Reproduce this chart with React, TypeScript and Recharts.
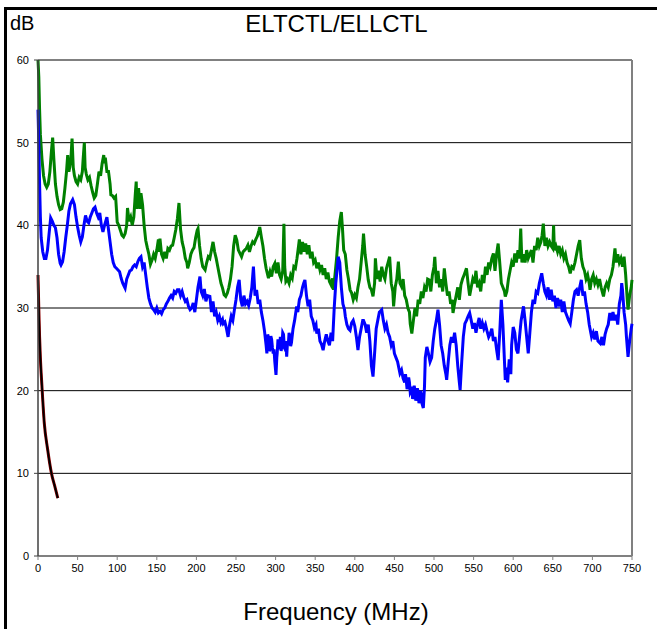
import { LineChart, Line, XAxis, YAxis, CartesianGrid, ReferenceLine } from "recharts";

// [frequency MHz, dB]
const GREEN: [number, number][] = [
  [0, 60], [1, 58], [2, 54], [3, 51], [5, 48], [7, 46], [9, 45], [11, 44.6], [13, 45], [15, 46.5],
  [17, 49], [18.5, 50.6], [20, 48], [22, 45], [24, 43.5], [26, 42.5], [28, 41.9], [30, 42], [32, 42.8], [34, 44.5],
  [36, 46.5], [37.5, 48.5], [39, 46.5], [40, 47], [41.5, 48], [43, 50.5], [44.5, 47], [46, 46], [48, 45.3], [50, 45],
  [52, 45.8], [54, 45.5], [56, 46.5], [57, 48], [58.5, 50], [59.5, 47], [61, 46.2], [63, 45.5], [65, 45.8], [67, 44.8],
  [69, 44], [71, 43.3], [73, 43.6], [75, 45], [77, 46.5], [79, 46], [81, 47.5], [83, 48.5], [84, 47.5], [85, 48.2],
  [87, 46.5], [89, 46.5], [91, 45], [92, 43.7], [94, 43.6], [96, 43.3], [98, 43.5], [100, 40.4], [102, 40], [104, 39.4],
  [106, 38.8], [108, 38.6], [110, 39], [112, 40], [113, 42.1], [115, 40.5], [117, 41], [119, 40], [121, 41], [123, 44],
  [124, 45.3], [125, 42], [127, 44.5], [129, 42], [130, 43.9], [132, 42.5], [134, 40], [136, 38.2], [138, 37.3], [140, 36.5],
  [142, 35.3], [144, 35.8], [146, 36.5], [148, 36], [150, 37], [152, 38.3], [153, 36.8], [154, 38.4], [156, 36.5], [158, 36],
  [160, 36.8], [162, 36], [164, 37.2], [166, 37], [168, 37.5], [170, 37.6], [172, 38.5], [174, 39.5], [176, 40.8], [178, 42.7],
  [180, 39.5], [182, 38], [184, 37.2], [186, 36], [188, 35.5], [189, 34.8], [191, 35.5], [193, 36.5], [195, 37], [197, 37.3],
  [199, 38.5], [201, 39.4], [202, 39.6], [204, 37.5], [206, 36], [208, 35], [211, 34.6], [213, 35.5], [215, 36.2], [217, 36],
  [219, 37], [221, 38], [223, 36.8], [225, 36], [227, 35], [229, 34], [231, 33], [233, 32.4], [235, 31.6], [237, 31.4],
  [239, 31.8], [241, 32.5], [243, 33.5], [245, 35], [247, 37.5], [249, 38.8], [251, 38.2], [253, 37], [255, 36.6], [257, 36.2],
  [259, 36.8], [261, 37], [263, 37.2], [265, 37.6], [267, 36.8], [269, 37.5], [271, 38], [273, 37.8], [275, 38.3], [277, 38.7],
  [279, 39.4], [280, 39.8], [282, 38.6], [284, 37.5], [286, 36], [288, 34.8], [290, 34], [291, 33.6], [293, 34.4], [295, 33.8],
  [297, 35], [299, 35.4], [301, 34.2], [303, 35.5], [305, 34], [307, 33.5], [309, 34.5], [310.5, 40.2], [311.5, 35], [313, 33.2],
  [315, 33.5], [317, 33], [319, 34], [321, 33.6], [323, 35], [325, 34.8], [327, 36], [329, 37.5], [330, 38.3], [332, 36.5],
  [334, 38], [336, 36.8], [338, 37.8], [340, 36.5], [342, 37.6], [344, 36], [346, 36.8], [348, 35.5], [350, 35.8], [352, 34.8],
  [354, 35.5], [356, 34.6], [358, 35.2], [360, 34], [362, 34.8], [364, 33.5], [366, 34.3], [368, 33.2], [370, 32.8], [372, 33.6],
  [373, 32.2], [375, 34], [377, 36], [379, 38.5], [381, 40.5], [383, 41.6], [384.5, 39.5], [386, 37], [388, 36.5], [390, 34.6],
  [392, 33.5], [394, 32.2], [396, 31.8], [398, 31], [400, 31.6], [402, 31.2], [404, 32.5], [406, 33.5], [408, 35.5], [410, 37.5],
  [411, 39], [413, 36.5], [415, 35], [417, 33.4], [419, 32.5], [421, 32.2], [423, 31.4], [425, 33], [426, 36], [428, 33.5],
  [430, 34.5], [432, 33.2], [434, 35], [436, 34], [438, 33.5], [440, 34.8], [442, 35.5], [444, 36.2], [446, 33], [448, 32],
  [449, 30.2], [451, 32.5], [453, 33.5], [455, 35.6], [457, 33], [459, 32.6], [461, 33.5], [463, 31.5], [465, 31], [467, 30],
  [469, 29.5], [470, 28.1], [472, 26.9], [474, 28.5], [476, 30], [478, 29], [480, 31], [482, 30.5], [484, 32], [486, 31.2],
  [488, 32.5], [490, 32], [492, 33.5], [494, 33.4], [496, 32], [498, 34], [500, 35], [501, 36.2], [503, 33], [505, 34.5],
  [507, 32.5], [509, 33.5], [511, 32], [513, 34.8], [515, 33], [517, 31.5], [519, 32], [521, 30.5], [523, 31], [524, 29.4],
  [526, 30.5], [528, 31.5], [530, 32.5], [532, 31], [534, 32.8], [536, 33.5], [538, 34], [541, 34.8], [543, 33], [545, 31.5],
  [547, 32.5], [549, 33.5], [551, 33], [553, 34.5], [555, 32.5], [557, 33], [559, 32], [561, 34], [563, 33], [565, 35],
  [567, 34], [569, 35.5], [571, 35], [573, 36], [575, 36.6], [577, 34.5], [579, 36.5], [581, 37.8], [583, 35.5], [585, 33],
  [587, 32.5], [589, 32], [590, 31.4], [592, 32], [594, 33.5], [596, 34.5], [598, 35.5], [600, 35], [602, 36.6], [604, 35.5],
  [606, 37], [608, 36], [609.5, 39.6], [611, 35.5], [613, 36.5], [615, 35.5], [617, 37], [619, 36], [621, 36.5], [623, 37],
  [625, 35.5], [627, 37.5], [629, 37], [631, 38.5], [633, 37.5], [635, 38], [636.5, 38.8], [638, 40.2], [640, 37.5], [642, 38.5],
  [644, 37.5], [646, 38], [648, 37.5], [650, 37.2], [651, 40], [652, 37], [654, 37.5], [656, 36.8], [658, 37.5], [660, 36.5],
  [662, 37], [664, 36], [666, 36.5], [668, 35.5], [670, 35], [672, 34.2], [674, 35], [676, 34.8], [678, 35.5], [680, 36.5],
  [682, 37.5], [684, 38.2], [686, 36], [688, 35], [690, 34.5], [692, 33.5], [694, 34], [696, 33], [697, 32.2], [699, 33.5],
  [701, 34], [703, 33], [705, 33.5], [707, 32.8], [709, 33.5], [711, 32.5], [714, 31.4], [716, 32.5], [718, 33], [720, 32.5],
  [722, 33.5], [724, 34], [726, 35], [728.5, 37.2], [730, 35.5], [732, 36.5], [734, 35.5], [736, 36], [738, 35], [740, 36.2],
  [742, 34], [744, 31], [745, 29.8], [747, 31.5], [749, 32.5], [750, 33.4],
];

const BLUE: [number, number][] = [
  [0, 54], [1, 50], [2, 45], [3, 41], [4, 38.5], [6, 36.8], [8, 36], [10, 36], [12, 37], [14, 39],
  [16, 40.9], [18, 40.5], [20, 40], [22, 39.7], [24, 38.5], [26, 36.5], [28, 35.4], [29, 35.2], [31, 35.6], [33, 36.8],
  [35, 38.5], [37, 40], [39, 41.7], [41, 42.6], [43.8, 43.1], [46, 42.5], [48, 41], [50, 39.8], [52, 38.8], [54, 38],
  [56, 38.6], [58, 40], [60, 41.2], [62, 40.5], [64, 40.3], [66, 41], [68, 41.5], [70, 42], [72, 42.2], [74, 41.5],
  [76, 41], [78, 41.5], [80, 40], [82, 39.2], [84, 40], [87, 41], [89, 39.5], [91, 38], [93, 36.5], [95, 35.5],
  [97, 35], [99, 34.8], [101, 34.6], [103, 34.4], [105, 33.6], [107, 33], [109, 32.6], [110, 32.4], [112, 33.5], [114, 34],
  [116, 34.5], [118, 34.6], [120, 35], [122, 35.2], [124, 35], [126, 35.6], [128, 36], [130, 36.2], [132, 35], [134, 35.5],
  [136, 34], [138, 32.5], [140, 31.2], [142, 30.5], [144, 30], [146, 29.8], [148, 29.5], [150, 30], [152, 29.4], [154, 29.6],
  [156, 29.3], [158, 29.8], [160, 30], [162, 30.5], [164, 30.8], [166, 31.2], [168, 31.5], [170, 31.2], [172, 32], [174, 31.8],
  [176, 32.2], [178, 32.2], [180, 31.5], [182, 32], [184, 31.3], [186, 30.8], [188, 31], [190, 30.2], [192, 29.8], [194, 30],
  [196, 30.6], [198, 29.5], [200, 31], [202, 32.5], [204.5, 33.8], [206, 32], [208, 31.5], [210, 32.3], [212, 30.8], [214, 31.5],
  [217, 31.4], [219, 29.5], [221, 30.8], [223, 29], [225, 29.5], [227, 28.5], [229, 29], [231, 28.2], [233, 28.6], [234, 28.1],
  [236, 28.3], [238, 27.5], [240, 26.5], [242, 28], [244, 29], [246, 28.5], [248, 29.8], [250, 31], [252, 32.5], [254, 33.4],
  [256, 31], [258, 30.2], [260, 31.5], [262, 30.5], [264, 30.8], [266, 30.3], [268, 31.2], [270, 32.5], [272, 35], [274, 31.5],
  [276, 32.2], [278, 30.5], [280, 31], [282, 29.5], [284, 28.5], [286, 27.2], [288, 25.5], [289, 24.5], [290, 26.8], [291, 26.5],
  [292, 24.8], [293, 25], [294, 26.6], [295, 26.2], [296, 25.2], [297, 24.5], [298, 25], [299, 23.5], [300.5, 21.9], [301.5, 24],
  [302, 24.5], [303, 26.2], [304, 25.8], [305, 25], [306, 26.5], [307, 24.8], [308, 25.5], [309, 27], [310, 26.8], [311, 25.2],
  [312, 25], [313, 26], [314, 24.1], [315, 25.8], [316, 25.5], [317, 27], [318, 26.5], [319, 25.4], [320, 25.8], [322, 27.5],
  [324, 28.5], [326.6, 30.2], [328, 29.5], [330, 31], [332, 31.5], [334, 32.5], [335.5, 33], [337, 33.4], [339, 31.5], [341, 30.2],
  [343, 31], [345, 29], [347, 28.5], [349, 27.6], [351, 28], [352, 26.9], [354, 27.5], [356, 26], [358, 25.6], [360, 24.9],
  [362, 26], [364, 26.8], [366, 26], [368, 25.5], [370, 27], [372, 26], [374, 30], [376, 33], [378, 35], [379, 36.2],
  [381, 35.5], [383, 32.5], [385, 30.5], [387, 29.8], [388, 29], [390, 28], [392, 27.5], [394, 27.3], [396, 28.2], [398, 28.5],
  [400, 27.8], [402, 26.5], [404, 24.9], [406, 26.5], [408, 27.5], [410, 28.5], [411, 28.5], [413, 28], [415, 27], [417, 28],
  [419, 26], [421, 23], [423, 21.7], [425, 24.5], [427, 27.5], [429, 28.5], [431, 29.5], [434, 29.8], [436, 28.5], [438, 27.5],
  [440, 28], [442, 27], [444, 26.5], [446, 25.5], [448, 26], [450, 24.5], [452, 24], [454, 23.5], [457, 22.1], [459, 22.5],
  [461, 21.5], [463, 21], [464, 22], [465, 21.2], [466, 20.2], [467, 20.5], [468, 21.6], [469, 21], [470, 19.8], [471, 20],
  [472, 20.5], [473, 19], [474, 19.5], [475, 20.6], [476, 20], [477, 18.8], [478, 19.2], [479, 20.3], [480, 19.8], [481, 18.5],
  [482, 18.8], [483, 20], [484, 19.5], [485, 18.4], [486.5, 17.9], [488, 20.5], [489, 24], [491, 25.3], [493, 24.5], [495, 23.5],
  [497, 24], [499, 26], [501, 27.5], [503, 28.5], [505, 29.8], [507, 28], [509, 25.5], [511, 24.5], [513, 23], [515, 22],
  [516, 21.3], [518, 23.5], [520, 25.5], [522, 26.5], [524, 25.8], [526, 27], [528, 25.5], [530, 23], [532, 21], [533, 20.1],
  [535, 23.5], [537, 26.5], [539, 28.1], [541, 28.5], [543, 29], [545, 29.4], [547, 28.5], [549, 27.5], [551, 28.2], [553, 27],
  [555, 28], [557, 28.8], [559, 27.5], [561, 28.2], [563, 27.5], [565, 28], [567, 27.2], [569, 26.5], [571, 26.9], [573, 27.5],
  [575, 26], [577, 26.5], [579, 25], [581, 23.7], [583, 27], [585, 31], [587, 28], [589, 23.5], [590, 21.3], [591, 22.8],
  [592, 21.8], [593, 21], [594, 22.5], [595, 23.8], [596, 23], [597, 22], [598, 25.5], [600, 27.7], [602, 27], [604, 25],
  [606, 24.5], [608, 26.5], [610, 28.5], [613, 30.2], [615, 28.5], [617, 26.5], [619, 24.5], [621, 27], [623, 29.5], [625, 31],
  [627, 30.5], [629, 32], [631, 31.8], [633, 33], [636, 34.2], [638, 33], [640, 32], [642, 31.5], [644, 32.5], [646, 31],
  [648, 32.2], [650, 30.8], [652, 31.5], [654, 30], [656, 31.2], [658, 30.5], [660, 31], [662, 29.5], [664, 30.8], [666, 29.5],
  [668, 29], [670, 28.5], [672, 28.1], [674, 29.5], [676, 31], [678, 32], [680, 32.2], [682, 31.5], [684, 32.5], [686, 33.4],
  [688, 31.5], [690, 32], [692, 30.5], [694, 29.5], [696, 28], [699, 26.5], [701, 27], [703, 26.2], [705, 27.2], [707, 26],
  [710, 25.7], [712, 26.5], [714, 25.5], [716, 26.8], [718, 27.5], [720, 28], [722, 29.4], [724, 28.5], [726, 29.5], [728, 28.5],
  [730, 29.2], [732, 28], [734, 30.5], [736, 31.5], [737, 33], [738, 32.2], [740, 29.5], [742, 28], [743, 26.5], [745, 24.1],
  [747, 26], [749, 27.5], [750, 28.1],
];

const LOW: [number, number][] = [
  [0, 34], [1, 30], [2, 26.5], [3, 24], [5, 20.5], [8, 16], [12, 13], [17, 10], [21, 8.5], [25, 7],
];

const X_TICKS = [0, 50, 100, 150, 200, 250, 300, 350, 400, 450, 500, 550, 600, 650, 700, 750];
const Y_TICKS = [0, 10, 20, 30, 40, 50, 60];

const toRows = (pts: [number, number][]) => pts.map(([f, db]) => ({ f, db }));

const FONT = "Arial, 'Liberation Sans', sans-serif";

export default function App() {
  const tick = { fontSize: 11, fill: "#000", fontFamily: FONT };
  return (
    <div style={{ position: "relative", width: 657, height: 629, background: "#fff", overflow: "hidden", fontFamily: FONT }}>
      <style>{"body{margin:0}"}</style>
      <div style={{ position: "absolute", left: 4, top: 7, right: -10, bottom: -10, borderLeft: "3px solid #000", borderTop: "3px solid #000" }} />
      <div style={{ position: "absolute", left: 10, top: 12, fontSize: 20 }}>dB</div>
      <div style={{ position: "absolute", left: 0, width: 673, top: 10, fontSize: 24, textAlign: "center" }}>ELTCTL/ELLCTL</div>
      <div style={{ position: "absolute", left: 0, width: 672, top: 598, fontSize: 24, textAlign: "center" }}>Frequency (MHz)</div>
      <div style={{ position: "absolute", left: 0, top: 0 }}>
        <LineChart width={657} height={629} margin={{ top: 60, right: 25, bottom: 53, left: 8 }}>
          <CartesianGrid vertical={false} stroke="#000" strokeWidth={1} />
          <XAxis
            dataKey="f"
            type="number"
            domain={[0, 750]}
            ticks={X_TICKS}
            allowDuplicatedCategory={false}
            height={20}
            tick={tick}
            tickSize={4}
            tickMargin={4}
            stroke="#808080"
            axisLine={{ stroke: "#808080", strokeWidth: 2 }}
          />
          <YAxis
            dataKey="db"
            type="number"
            domain={[0, 60]}
            ticks={Y_TICKS}
            width={30}
            tick={tick}
            tickSize={4}
            tickMargin={5}
            stroke="#404040"
            axisLine={{ stroke: "#404040", strokeWidth: 1.5 }}
          />
          <ReferenceLine y={60} stroke="#808080" strokeWidth={2} />
          <ReferenceLine x={750} stroke="#808080" strokeWidth={2} />
          <Line data={toRows(GREEN)} dataKey="db" stroke="#008000" strokeWidth={3} dot={false} isAnimationActive={false} />
          <Line data={toRows(BLUE)} dataKey="db" stroke="#0000ff" strokeWidth={3} dot={false} isAnimationActive={false} />
          <Line data={toRows(LOW)} type="monotone" dataKey="db" stroke="#8b0000" strokeWidth={3} dot={false} isAnimationActive={false} />
          <Line data={toRows(LOW)} type="monotone" dataKey="db" stroke="#000" strokeWidth={1.8} dot={false} isAnimationActive={false} />
        </LineChart>
      </div>
    </div>
  );
}
